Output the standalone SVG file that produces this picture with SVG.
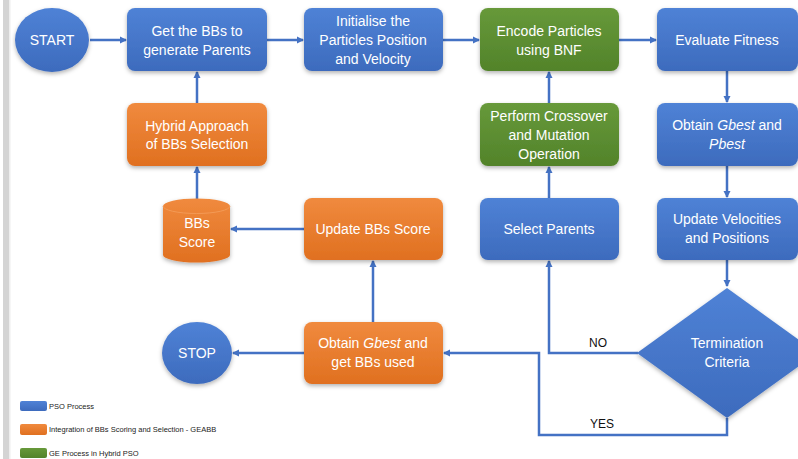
<svg xmlns="http://www.w3.org/2000/svg" width="798" height="459" viewBox="0 0 798 459">
<style>
.t{font-family:"Liberation Sans",Arial,sans-serif;font-size:14px;fill:#fff;text-anchor:middle}
.lbl{font-family:"Liberation Sans",Arial,sans-serif;font-size:12px;fill:#111;text-anchor:middle}
.lg{font-family:"Liberation Sans",Arial,sans-serif;font-size:7.5px;fill:#222}
.c{fill:none;stroke:#4472C4;stroke-width:2.5}
.blue{fill:url(#gb)}
.orange{fill:url(#go)}
.green{fill:url(#gg)}
</style>
<defs>
<linearGradient id="gb" x1="0" y1="0" x2="0" y2="1"><stop offset="0" stop-color="#4f82d6"/><stop offset="1" stop-color="#3d6bbd"/></linearGradient>
<linearGradient id="go" x1="0" y1="0" x2="0" y2="1"><stop offset="0" stop-color="#f08a3e"/><stop offset="1" stop-color="#e07020"/></linearGradient>
<linearGradient id="gg" x1="0" y1="0" x2="0" y2="1"><stop offset="0" stop-color="#67993a"/><stop offset="1" stop-color="#52832a"/></linearGradient>
<filter id="sh" x="-20%" y="-20%" width="140%" height="150%"><feDropShadow dx="0" dy="2" stdDeviation="2" flood-color="#000" flood-opacity="0.3"/></filter>
<marker id="ar" markerWidth="8" markerHeight="8" refX="6" refY="4" orient="auto" markerUnits="userSpaceOnUse"><path d="M0,0.5 L7,4 L0,7.5 Z" fill="#4472C4"/></marker>
</defs>
<rect x="0" y="0" width="798" height="459" fill="#fff"/>
<rect x="3" y="0" width="7" height="459" fill="#d4d4d4"/>
<rect x="9" y="0" width="1.5" height="459" fill="#eeeeee"/>

<g id="connectors">
<line class="c" x1="90" y1="40" x2="126" y2="40" marker-end="url(#ar)"/>
<line class="c" x1="267" y1="40" x2="303" y2="40" marker-end="url(#ar)"/>
<line class="c" x1="443" y1="40" x2="479" y2="40" marker-end="url(#ar)"/>
<line class="c" x1="619" y1="40" x2="656" y2="40" marker-end="url(#ar)"/>
<line class="c" x1="727" y1="71" x2="727" y2="102" marker-end="url(#ar)"/>
<line class="c" x1="727" y1="166" x2="727" y2="197" marker-end="url(#ar)"/>
<line class="c" x1="727" y1="260" x2="727" y2="286" marker-end="url(#ar)"/>
<line class="c" x1="549" y1="103" x2="549" y2="72" marker-end="url(#ar)"/>
<line class="c" x1="549" y1="198" x2="549" y2="167" marker-end="url(#ar)"/>
<line class="c" x1="197" y1="103" x2="197" y2="72" marker-end="url(#ar)"/>
<line class="c" x1="197" y1="199" x2="197" y2="167" marker-end="url(#ar)"/>
<line class="c" x1="304" y1="229" x2="231" y2="229" marker-end="url(#ar)"/>
<line class="c" x1="373" y1="322" x2="373" y2="261" marker-end="url(#ar)"/>
<line class="c" x1="304" y1="353" x2="233" y2="353" marker-end="url(#ar)"/>
<polyline class="c" points="638,353 549,353 549,261" marker-end="url(#ar)"/>
<polyline class="c" points="727,418 727,435 539,435 539,353 444,353" marker-end="url(#ar)"/>
<text class="lbl" x="598" y="347">NO</text>
<text class="lbl" x="602" y="428">YES</text>
</g>

<g id="start"><ellipse class="blue" cx="52" cy="40" rx="37" ry="32" filter="url(#sh)"/><text class="t" x="52" y="45">START</text></g>
<g id="getbbs"><rect class="blue" x="127" y="8" width="140" height="63" rx="8" filter="url(#sh)"/><text class="t" x="197" y="36">Get the BBs to</text><text class="t" x="197" y="55">generate Parents</text></g>
<g id="init"><rect class="blue" x="304" y="8" width="139" height="63" rx="8" filter="url(#sh)"/><text class="t" x="373" y="26">Initialise the</text><text class="t" x="373" y="45">Particles Position</text><text class="t" x="373" y="64">and Velocity</text></g>
<g id="encode"><rect class="green" x="480" y="8" width="139" height="63" rx="8" filter="url(#sh)"/><text class="t" x="549" y="36">Encode Particles</text><text class="t" x="549" y="55">using BNF</text></g>
<g id="evaluate"><rect class="blue" x="657" y="8" width="141" height="63" rx="8" filter="url(#sh)"/><text class="t" x="727" y="45">Evaluate Fitness</text></g>
<g id="hybrid"><rect class="orange" x="127" y="103" width="140" height="63" rx="8" filter="url(#sh)"/><text class="t" x="197" y="131">Hybrid Approach</text><text class="t" x="197" y="149">of BBs Selection</text></g>
<g id="crossover"><rect class="green" x="480" y="103" width="139" height="63" rx="8" filter="url(#sh)"/><text class="t" x="549" y="121">Perform Crossover</text><text class="t" x="549" y="140">and Mutation</text><text class="t" x="549" y="159">Operation</text></g>
<g id="obtainpbest"><rect class="blue" x="657" y="103" width="141" height="63" rx="8" filter="url(#sh)"/><text class="t" x="727" y="130">Obtain <tspan font-style="italic">Gbest</tspan> and</text><text class="t" x="727" y="149" font-style="italic">Pbest</text></g>
<g id="bbsscore"><path class="orange" d="M163,206 A33.5,7.5 0 0 1 230,206 L230,255 A33.5,7.5 0 0 1 163,255 Z" filter="url(#sh)"/><path d="M163,206 A33.5,7.5 0 0 0 230,206" fill="none" stroke="#f39a55" stroke-width="1"/><text class="t" x="197" y="228">BBs</text><text class="t" x="197" y="247">Score</text></g>
<g id="updatebbs"><rect class="orange" x="304" y="198" width="139" height="62" rx="8" filter="url(#sh)"/><text class="t" x="373" y="234">Update BBs Score</text></g>
<g id="select"><rect class="blue" x="480" y="198" width="139" height="62" rx="8" filter="url(#sh)"/><text class="t" x="549" y="234">Select Parents</text></g>
<g id="updatevel"><rect class="blue" x="657" y="198" width="141" height="62" rx="8" filter="url(#sh)"/><text class="t" x="727" y="224">Update Velocities</text><text class="t" x="727" y="243">and Positions</text></g>
<g id="termination"><polygon class="blue" points="727,288 817,353 727,418 637,353" filter="url(#sh)"/><text class="t" x="727" y="348">Termination</text><text class="t" x="727" y="367">Criteria</text></g>
<g id="stop"><ellipse class="blue" cx="197" cy="353" rx="35" ry="31" filter="url(#sh)"/><text class="t" x="197" y="358">STOP</text></g>
<g id="obtaingbest"><rect class="orange" x="304" y="322" width="139" height="62" rx="8" filter="url(#sh)"/><text class="t" x="373" y="348">Obtain <tspan font-style="italic">Gbest</tspan> and</text><text class="t" x="373" y="367">get BBs used</text></g>

<g id="legend">
<rect class="blue" x="20" y="401" width="27" height="10" rx="2"/><text class="lg" x="49" y="409">PSO Process</text>
<rect class="orange" x="20" y="424" width="27" height="11" rx="2"/><text class="lg" x="49" y="432">Integration of BBs Scoring and Selection - GEABB</text>
<rect class="green" x="20" y="448" width="27" height="10" rx="2"/><text class="lg" x="49" y="456">GE Process in Hybrid PSO</text>
</g>
</svg>
